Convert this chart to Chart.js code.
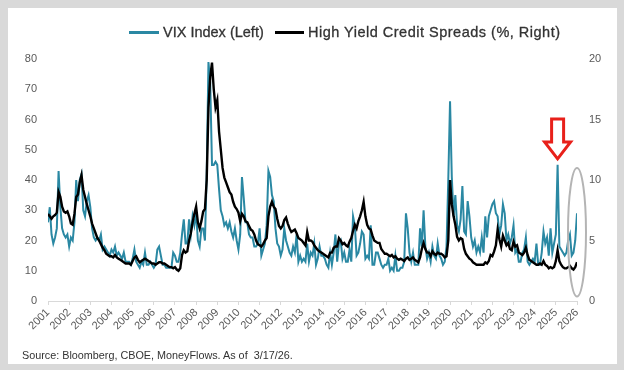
<!DOCTYPE html>
<html>
<head>
<meta charset="utf-8">
<script src="https://cdn.jsdelivr.net/npm/chart.js@4"></script>
<style>
  html, body { margin: 0; padding: 0; }
  body { width: 624px; height: 370px; background: #d9d9d9; position: relative; overflow: hidden; font-family: "Liberation Sans", Arial, sans-serif; }
  #panel { position: absolute; left: 8px; top: 8px; width: 609px; height: 356px; background: #fff; }
  #chart { position: absolute; left: 0; top: 0; }
  .legend-item { position: absolute; top: 24px; height: 16px; display: flex; align-items: center; font-size: 14.5px; color: #333; white-space: nowrap; -webkit-text-stroke: 0.3px #333; }
  .swatch { display: inline-block; height: 3px; margin-right: 4px; }
  #source { position: absolute; left: 22px; top: 349px; font-size: 10.8px; color: #333; white-space: nowrap; }
</style>
</head>
<body>
<div id="panel"></div>
<canvas id="chart" width="624" height="370"></canvas>
<div class="legend-item" style="left:129px"><span class="swatch" style="width:30px;background:#2a88a3"></span>VIX Index (Left)</div>
<div class="legend-item" style="left:275px;letter-spacing:0.5px"><span class="swatch" style="width:29px;background:#000"></span>High Yield Credit Spreads (%, Right)</div>
<div id="source">Source: Bloomberg, CBOE, MoneyFlows. As of &nbsp;3/17/26.</div>

<script>
// ---------------------------------------------------------------
// DATA  (monthly, Mar 2001 -> Mar 2026)
// ---------------------------------------------------------------

const yearLabels = ['2001', '2002', '2003', '2004', '2005', '2006', '2007', '2008', '2009', '2010',
  '2011', '2012', '2013', '2014', '2015', '2016', '2017', '2018', '2019', '2020',
  '2021', '2022', '2023', '2024', '2025', '2026'];

const leftTicks = [0, 10, 20, 30, 40, 50, 60, 70, 80];
const rightTicks = [0, 5, 10, 15, 20];

// VIX Index (left axis)
const vixIndex = [
  26, 31, 22, 19, 21, 24, 43, 31, 24, 22,
  21, 22, 18, 21, 20, 26, 40, 33, 40, 42, 30, 28,
  33, 35, 31, 24, 21, 20, 21, 20, 22, 17, 18, 17,
  16, 15, 17, 16, 18, 15, 16, 15, 14, 16, 13, 13,
  13, 12, 14, 17, 13, 12, 11, 13, 12, 16, 12, 12,
  13, 12, 11, 12, 17, 18, 15, 12, 12, 11, 11, 11,
  11, 16, 15, 13, 13, 16, 22, 27, 19, 19, 27, 22,
  28, 25, 29, 20, 18, 24, 24, 20, 42, 79, 72, 45,
  45, 46, 45, 37, 30, 28, 25, 26, 24, 26, 23, 21,
  24, 20, 17, 22, 41, 34, 26, 26, 22, 21, 21, 18,
  18, 19, 24, 15, 17, 19, 25, 43, 41, 35, 33, 24,
  19, 18, 15, 17, 24, 20, 18, 16, 15, 18, 16, 22,
  13, 15, 13, 14, 13, 19, 13, 16, 15, 19, 12, 14,
  18, 15, 15, 14, 12, 11, 16, 12, 16, 22, 13, 19,
  20, 14, 16, 13, 13, 17, 13, 28, 25, 15, 16, 19,
  23, 22, 14, 15, 14, 25, 12, 12, 16, 16, 14, 12,
  11, 12, 12, 14, 10, 11, 10, 15, 10, 10, 11, 11,
  13, 29, 24, 16, 13, 16, 12, 12, 12, 24, 18, 30,
  18, 14, 16, 13, 18, 15, 14, 19, 15, 14, 12, 13,
  18, 40, 66, 41, 28, 35, 25, 23, 27, 38, 23, 22,
  33, 28, 21, 18, 20, 16, 18, 16, 21, 16, 28, 21,
  28, 30, 32, 33, 29, 28, 22, 25, 32, 29, 20, 22,
  19, 21, 25, 16, 17, 13, 13, 16, 17, 21, 13, 12,
  13, 14, 13, 19, 12, 12, 16, 23, 19, 21, 15, 24,
  16, 19, 22, 45, 18, 17, 16, 15, 16, 20, 22, 15,
  16, 20, 29
];

// High yield credit spreads, % (right axis)
const hySpread = [
  7.2, 7.0, 6.8, 7.0, 7.1, 7.3, 9.0, 8.6, 7.8, 7.4,
  7.3, 7.4, 7.0, 6.4, 6.3, 7.2, 8.6, 8.8, 9.8, 10.4, 9.2, 8.6,
  8.0, 7.5, 7.0, 6.4, 6.0, 5.6, 5.2, 5.0, 4.7, 4.4, 4.2, 3.9,
  3.8, 3.7, 3.7, 3.6, 3.8, 3.6, 3.5, 3.4, 3.3, 3.2, 3.1, 3.1,
  3.1, 3.0, 3.3, 3.6, 3.7, 3.4, 3.2, 3.3, 3.4, 3.5, 3.4, 3.3,
  3.2, 3.1, 3.1, 3.0, 3.1, 3.2, 3.2, 3.1, 3.1, 3.0, 2.9, 2.8,
  2.8, 2.7, 2.8, 2.6, 2.5, 2.7, 3.8, 4.2, 4.0, 4.1, 5.0, 5.6,
  6.5, 7.2, 7.8, 6.5, 6.0, 6.6, 7.4, 7.6, 10.0, 16.0, 18.5, 19.7,
  17.5, 16.0, 16.6, 14.0, 12.5, 11.0, 10.2, 9.8, 9.4, 9.0, 8.8, 8.2,
  7.8, 7.6, 7.3, 6.6, 7.2, 7.0, 6.6, 6.5, 6.2, 5.9, 5.8, 5.5,
  5.0, 4.7, 4.6, 4.5, 4.7, 5.0, 5.2, 7.0, 7.8, 8.2, 7.8, 7.6,
  6.8, 6.2, 6.0, 6.2, 6.7, 6.9, 6.4, 6.0, 5.7, 5.8, 5.9, 5.6,
  5.2, 5.1, 5.0, 4.8, 4.6, 5.7, 5.0, 5.0, 4.9, 4.6, 4.4, 4.2,
  4.1, 4.0, 3.9, 3.8, 3.7, 3.6, 4.0, 4.0, 4.4, 4.5, 4.5, 5.2,
  5.0, 4.7, 4.8, 4.6, 4.5, 4.9, 5.2, 5.8, 6.3, 6.0, 6.6, 7.0,
  7.5, 8.2, 7.0, 6.3, 6.0, 5.9, 5.4, 5.0, 4.9, 4.8, 4.8, 4.3,
  4.1, 3.9, 3.9, 3.8, 3.7, 3.8, 3.6, 3.7, 3.5, 3.4, 3.5, 3.4,
  3.3, 3.5, 3.6, 3.4, 3.5, 3.6, 3.4, 3.3, 3.2, 3.6, 4.3, 4.8,
  4.3, 4.0, 4.0, 3.7, 4.1, 3.9, 3.8, 4.0, 3.9, 3.9, 3.8, 3.6,
  3.7, 5.0, 10.0, 8.0, 7.0, 6.3, 5.3, 5.0, 5.2, 5.1, 4.3, 3.9,
  3.7, 3.5, 3.4, 3.2, 3.1, 3.0, 3.0, 3.0, 3.0, 3.0, 3.2, 3.1,
  3.3, 3.8, 3.7, 4.1, 4.6, 5.9, 5.1, 4.5, 5.4, 5.0, 4.6, 4.8,
  4.3, 4.2, 4.9, 4.5, 4.6, 4.0, 3.9, 3.8, 4.0, 4.4, 3.8, 3.4,
  3.3, 3.2, 3.1, 3.0, 3.0, 3.1, 3.0, 3.3, 3.0, 2.9, 2.7, 2.8,
  2.7, 2.8, 3.3, 4.2, 3.3, 3.0, 2.8, 2.7, 2.7, 2.8, 2.9, 2.7,
  2.6, 2.8, 3.2
];

// month index of the April 2025 spike the arrow points at
const arrowMonth = 289;

// ---------------------------------------------------------------
// ANNOTATIONS (red arrow + grey ellipse)
// ---------------------------------------------------------------

const markup = {
  id: 'markup',
  afterDatasetsDraw(chart) {
    const { ctx, scales } = chart;
    const x = scales.x, y = scales.y;

    // hollow red arrow above the spike
    const ax = x.getPixelForValue(arrowMonth);
    const tip = y.getPixelForValue(vixIndex[arrowMonth]) - 6;
    ctx.save();
    ctx.beginPath();
    ctx.moveTo(ax - 6, tip - 40);
    ctx.lineTo(ax + 6, tip - 40);
    ctx.lineTo(ax + 6, tip - 17);
    ctx.lineTo(ax + 13, tip - 17);
    ctx.lineTo(ax, tip);
    ctx.lineTo(ax - 13, tip - 17);
    ctx.lineTo(ax - 6, tip - 17);
    ctx.closePath();
    ctx.fillStyle = '#fff';
    ctx.fill();
    ctx.lineWidth = 3;
    ctx.lineJoin = 'miter';
    ctx.strokeStyle = '#e8201a';
    ctx.stroke();

    // grey ellipse round the latest readings
    const ex = x.getPixelForValue(vixIndex.length - 1);
    const top = y.getPixelForValue(44);
    const bottom = y.getPixelForValue(1.5);
    ctx.beginPath();
    ctx.ellipse(ex, (top + bottom) / 2, 9, (bottom - top) / 2, 0, 0, Math.PI * 2);
    ctx.lineWidth = 2;
    ctx.strokeStyle = '#b4b4b4';
    ctx.stroke();
    ctx.restore();
  }
};

// ---------------------------------------------------------------
// CHART
// ---------------------------------------------------------------

const tickFont = { family: 'Liberation Sans', size: 11 };

new Chart(document.getElementById('chart').getContext('2d'), {
  type: 'line',
  data: {
    labels: vixIndex.map((_, i) => i),
    datasets: [
      {
        label: 'High Yield Credit Spreads (%, Right)',
        data: hySpread,
        yAxisID: 'y2',
        borderColor: '#000',
        borderWidth: 2.4,
        pointRadius: 0,
        tension: 0,
        order: 1
      },
      {
        label: 'VIX Index (Left)',
        data: vixIndex,
        yAxisID: 'y',
        borderColor: '#2a88a3',
        borderWidth: 2,
        pointRadius: 0,
        tension: 0,
        order: 2
      }
    ]
  },
  options: {
    responsive: false,
    animation: false,
    devicePixelRatio: 1,
    layout: { padding: { top: 59, left: 0, right: 0, bottom: 0 } },
    plugins: { legend: { display: false }, tooltip: { enabled: false } },
    scales: {
      x: {
        type: 'linear',
        min: 0,
        max: (yearLabels.length - 1) * 12,
        afterFit: (s) => { s.height = 69; },
        afterBuildTicks: (s) => { s.ticks = yearLabels.map((_, i) => ({ value: i * 12 })); },
        ticks: {
          autoSkip: false,
          maxRotation: 45,
          minRotation: 45,
          padding: 1,
          color: '#595959',
          font: tickFont,
          callback: (v) => yearLabels[v / 12]
        },
        grid: { drawOnChartArea: false, drawTicks: true, tickLength: 4, color: '#d9d9d9' },
        border: { display: true, color: '#d9d9d9', width: 1 }
      },
      y: {
        position: 'left',
        min: leftTicks[0],
        max: leftTicks[leftTicks.length - 1],
        afterFit: (s) => { s.width = 48; },
        afterBuildTicks: (s) => { s.ticks = leftTicks.map((v) => ({ value: v })); },
        ticks: { padding: 11, color: '#595959', font: tickFont },
        grid: { display: false, drawTicks: false },
        border: { display: false }
      },
      y2: {
        position: 'right',
        min: rightTicks[0],
        max: rightTicks[rightTicks.length - 1],
        afterFit: (s) => { s.width = 47; },
        afterBuildTicks: (s) => { s.ticks = rightTicks.map((v) => ({ value: v })); },
        ticks: { padding: 12, color: '#595959', font: tickFont },
        grid: { display: false, drawTicks: false },
        border: { display: false }
      }
    }
  },
  plugins: [markup]
});
</script>
</body>
</html>
